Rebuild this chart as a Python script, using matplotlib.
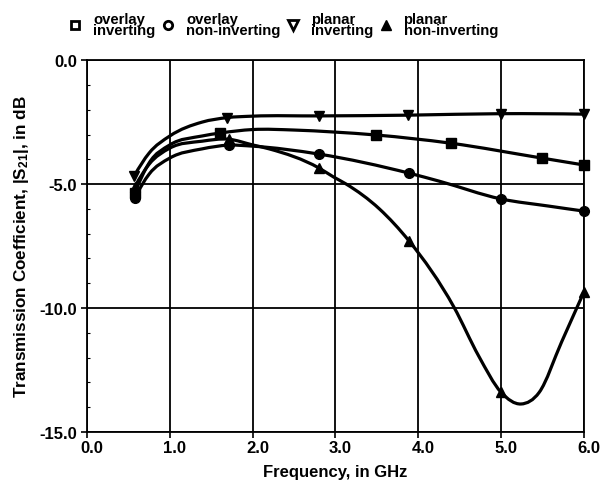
import numpy as np
import matplotlib
matplotlib.use("Agg")
import matplotlib.pyplot as plt
import matplotlib.transforms as mtransforms
from matplotlib.path import Path
from matplotlib.patches import PathPatch
from matplotlib.lines import Line2D

plt.rcParams['font.family'] = ['Liberation Sans', 'DejaVu Sans']
plt.rcParams['font.weight'] = 'bold'
plt.rcParams['mathtext.fontset'] = 'custom'
plt.rcParams['mathtext.rm'] = 'Liberation Sans:bold'
plt.rcParams['mathtext.bf'] = 'Liberation Sans:bold'
plt.rcParams['mathtext.default'] = 'bf'

# curves (GHz, dB); *_mk = which points carry a marker
freq_oi = [0.58, 0.75, 1.0, 1.39, 1.61, 2.0, 2.5, 2.98, 3.49, 4.39, 5.49, 6.0]
s21_oi = [-5.35, -4.15, -3.42, -3.06, -2.94, -2.8, -2.82, -2.9, -3.02, -3.35, -3.95, -4.23]
oi_mk = [0, 4, 8, 9, 10, 11]

freq_on = [0.58, 0.75, 1.0, 1.39, 1.71, 2.0, 2.8, 3.89, 4.25, 5.0, 5.58, 6.0]
s21_on = [-5.55, -4.6, -3.95, -3.58, -3.43, -3.47, -3.79, -4.56, -4.88, -5.6, -5.89, -6.09]
on_mk = [0, 4, 6, 7, 9, 11]

freq_pi = [0.57, 0.75, 1.0, 1.39, 1.69, 2.0, 2.8, 3.88, 5.0, 6.0]
s21_pi = [-4.68, -3.75, -3.06, -2.5, -2.32, -2.26, -2.25, -2.22, -2.16, -2.18]
pi_mk = [0, 4, 6, 7, 8, 9]

freq_pn = [0.58, 0.75, 1.0, 1.39, 1.71, 2.0, 2.2, 2.8, 2.98, 3.13, 3.53, 3.89,
           4.43, 4.73, 5.0, 5.24, 5.46, 5.73, 6.0]
s21_pn = [-5.1, -4.2, -3.55, -3.27, -3.19, -3.42, -3.58, -4.35, -4.72, -5.0, -6.0, -7.3,
          -9.96, -11.94, -13.4, -13.87, -13.4, -11.37, -9.35]
pn_mk = [0, 4, 7, 11, 14, 18]

labels = ["overlay\ninverting", "overlay\nnon-inverting", "planar\ninverting", "planar\nnon-inverting"]
markers = ["s", "o", "v", "^"]


def smooth_path(x, y):
    # piecewise cubic through the points (three-point slopes), drawn as bezier segments
    x = np.asarray(x, float)
    y = np.asarray(y, float)
    h = np.diff(x)
    d = np.diff(y) / h
    m = np.zeros(len(x))
    m[1:-1] = (h[:-1] * d[1:] + h[1:] * d[:-1]) / (h[:-1] + h[1:])
    m[0] = ((2 * h[0] + h[1]) * d[0] - h[0] * d[1]) / (h[0] + h[1])
    m[-1] = ((2 * h[-1] + h[-2]) * d[-1] - h[-1] * d[-2]) / (h[-1] + h[-2])
    verts = [(x[0], y[0])]
    codes = [Path.MOVETO]
    for i in range(len(x) - 1):
        verts += [(x[i] + h[i] / 3, y[i] + m[i] * h[i] / 3),
                  (x[i + 1] - h[i] / 3, y[i + 1] - m[i + 1] * h[i] / 3),
                  (x[i + 1], y[i + 1])]
        codes += [Path.CURVE4] * 3
    return Path(verts, codes)


fig = plt.figure(figsize=(6.02, 4.89), dpi=100)
ax = fig.add_axes([0.1445, 0.1145, 0.8255, 0.7605])

series = [(freq_oi, s21_oi, oi_mk), (freq_on, s21_on, on_mk),
          (freq_pi, s21_pi, pi_mk), (freq_pn, s21_pn, pn_mk)]
for (fx, sy, idx), mk in zip(series, markers):
    ax.add_patch(PathPatch(smooth_path(fx, sy), facecolor='none', edgecolor='black',
                           lw=2.3, zorder=3, clip_on=False))
    ax.plot(np.take(fx, idx), np.take(sy, idx), linestyle='none', marker=mk, color='black',
            ms=7, zorder=4, clip_on=False)

ax.set_xlim(0, 6)
ax.set_ylim(-15, 0)
ax.set_xticks(np.arange(0, 7, 1))
ax.set_yticks([-15, -10, -5, 0])
ax.set_yticks(np.arange(-15, 0, 1), minor=True)
ax.xaxis.set_major_formatter(matplotlib.ticker.FormatStrFormatter('%.1f'))
ax.yaxis.set_major_formatter(matplotlib.ticker.FormatStrFormatter('%.1f'))
ax.grid(True, which='major', color='black', lw=1.3)
ax.tick_params(which='major', direction='out', length=4, width=1.2, labelsize=12)
ax.tick_params(axis='x', which='major', pad=2)
ax.tick_params(axis='y', which='major', pad=3)
ax.tick_params(axis='y', which='minor', direction='in', length=2, width=0.8)
for sp in ax.spines.values():
    sp.set_linewidth(1.3)

offset = mtransforms.ScaledTranslation(0.05, 0, fig.dpi_scale_trans)
for lbl in ax.get_xticklabels():
    lbl.set_transform(lbl.get_transform() + offset)

ax.set_xlabel("Frequency, in GHz", fontsize=12, fontweight='bold', labelpad=6)
ax.set_ylabel("Transmission Coefficient, |S$_{21}$|, in dB", fontsize=12.3,
              fontweight='bold', labelpad=6)

handles = [
    Line2D([], [], ls='none', marker='s', ms=6, mfc='white', mec='black', mew=2),
    Line2D([], [], ls='none', marker='o', ms=6, mfc='white', mec='black', mew=2),
    Line2D([], [], ls='none', marker='v', ms=7, mfc='white', mec='black', mew=2),
    Line2D([], [], ls='none', marker='^', ms=7, mfc='black', mec='black', mew=1),
]
fig.legend(handles, labels, loc='center', bbox_to_anchor=(0.47, 0.948), ncol=4,
           frameon=False, fontsize=10.7, handlelength=1.0, handletextpad=0.7,
           columnspacing=0.35, borderaxespad=0, labelspacing=0)
for t in fig.legends[0].get_texts():
    t.set_linespacing(0.8)

fig.savefig("out.png", dpi=100)
